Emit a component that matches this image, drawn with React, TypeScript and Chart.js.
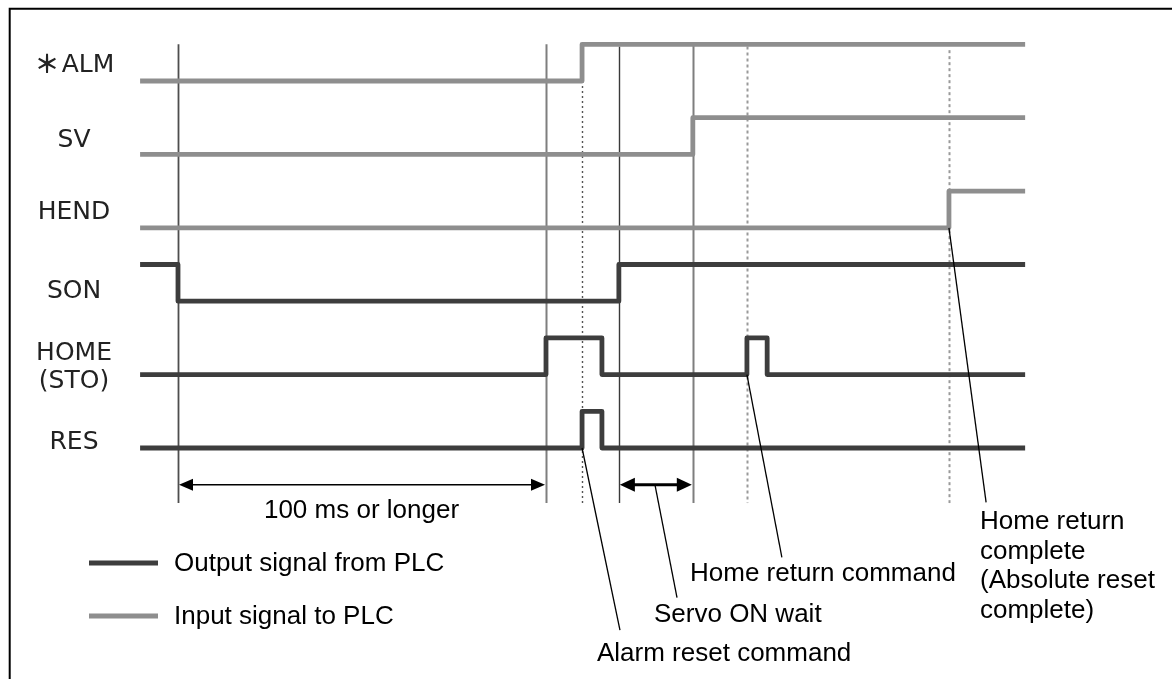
import React, { useEffect, useRef } from 'react';
import { Chart, registerables } from 'chart.js';

Chart.register(...registerables);

// ---- Data: timing of each signal (time in ms, measured from SON turning off) ----
const T_START = -10.3;
const T_END = 230.2;

const SIGNAL_NAMES = ['＊ALM', 'SV', 'HEND', 'SON', 'HOME', 'RES'];
const SIGNAL_SUBNAMES = ['', '', '', '', '(STO)', ''];
const SIGNAL_KIND = ['input', 'input', 'input', 'output', 'output', 'output'];

const ALM_TIMES = [T_START, 109.8, T_END];
const ALM_LEVELS = [0, 1, 1];
const SV_TIMES = [T_START, 139.9, T_END];
const SV_LEVELS = [0, 1, 1];
const HEND_TIMES = [T_START, 209.5, T_END];
const HEND_LEVELS = [0, 1, 1];
const SON_TIMES = [T_START, 0, 119.8, T_END];
const SON_LEVELS = [1, 0, 1, 1];
const HOME_TIMES = [T_START, 100, 115.2, 154.6, 160.1, T_END];
const HOME_LEVELS = [0, 1, 0, 1, 0, 0];
const RES_TIMES = [T_START, 109.8, 115.2, T_END];
const RES_LEVELS = [0, 1, 0, 0];

const SIGNAL_TIMES = [ALM_TIMES, SV_TIMES, HEND_TIMES, SON_TIMES, HOME_TIMES, RES_TIMES];
const SIGNAL_LEVELS = [ALM_LEVELS, SV_LEVELS, HEND_LEVELS, SON_LEVELS, HOME_LEVELS, RES_LEVELS];

// reference (guide) lines at event times
const GUIDE_TIMES = [0, 100, 109.8, 119.8, 139.9, 154.6, 209.5];
const GUIDE_TOP_ROWS = [-0.5, -0.5, 0, -0.47, -0.5, -0.47, -0.42];

// dimension arrows
const SPAN_FROM = [0, 119.8];
const SPAN_TO = [100, 139.9];
const SPAN_LABELS = ['100 ms or longer', ''];

// call-outs
const CALLOUT_TEXTS = [
  ['Alarm reset command'],
  ['Servo ON wait'],
  ['Home return command'],
  ['Home return', 'complete', '(Absolute reset', 'complete)'],
];
const CALLOUT_FROM_T = [109.8, 129.6, 154.6, 209.5];
const CALLOUT_FROM_ROW = [5, 5.5, 4, 2];
const CALLOUT_TO_T = [120.1, 135.6, 164.1, 219.6];
const CALLOUT_TO_ROW = [7.48, 7.04, 6.49, 5.74];

const LEGEND_LABELS = ['Output signal from PLC', 'Input signal to PLC'];

// ---- Styling / layout ----
const X_MIN = -48.37;
const X_MAX = 270.11;
const Y_MIN = -1.1035;
const Y_MAX = 8.147;
const AMP = 0.5;
const OUT_COLOR = '#3d3d3d';
const IN_COLOR = '#8e8e8e';
const TXT_FONT = '26px "Liberation Sans", Arial, sans-serif';
const LBL_FONT = '400 25px "DejaVu Sans", sans-serif';
const STAR_FONT = '700 25px "Noto Sans CJK JP", sans-serif';

const guideStyles = [
  { color: '#4e4e4e', width: 1.8, dash: [] as number[] },
  { color: '#7e7e7e', width: 2, dash: [] as number[] },
  { color: '#555555', width: 1.4, dash: [2, 3] },
  { color: '#3a3a3a', width: 1.4, dash: [] as number[] },
  { color: '#7e7e7e', width: 2, dash: [] as number[] },
  { color: '#9a9a9a', width: 2, dash: [3, 3] },
  { color: '#9a9a9a', width: 2, dash: [3, 3] },
];

function arrowHead(ctx: CanvasRenderingContext2D, x: number, y: number, dir: number, len: number, half: number) {
  ctx.beginPath();
  ctx.moveTo(x, y);
  ctx.lineTo(x - dir * len, y - half);
  ctx.lineTo(x - dir * len, y + half);
  ctx.closePath();
  ctx.fill();
}

const diagramPlugin = {
  id: 'timingDiagram',
  beforeDatasetsDraw(chart: any) {
    const { ctx, scales } = chart;
    const xs = scales.x;
    const ys = scales.y;
    ctx.save();
    // frame (top & left edges visible)
    ctx.strokeStyle = '#000';
    ctx.lineWidth = 2;
    ctx.beginPath();
    ctx.moveTo(1172, 8.7);
    ctx.lineTo(9.7, 8.7);
    ctx.lineTo(9.7, 679);
    ctx.stroke();
    // guides
    const bottom = ys.getPixelForValue(5.75);
    GUIDE_TIMES.forEach((t, i) => {
      const st = guideStyles[i];
      const px = Math.round(xs.getPixelForValue(t)) + 0.5;
      ctx.strokeStyle = st.color;
      ctx.lineWidth = st.width;
      ctx.setLineDash(st.dash);
      ctx.beginPath();
      ctx.moveTo(px, ys.getPixelForValue(GUIDE_TOP_ROWS[i]));
      ctx.lineTo(px, bottom);
      ctx.stroke();
    });
    ctx.setLineDash([]);
    ctx.restore();
  },
  afterDatasetsDraw(chart: any) {
    const { ctx, scales } = chart;
    const xs = scales.x;
    const ys = scales.y;
    ctx.save();
    // signal names
    ctx.fillStyle = '#222';
    ctx.textBaseline = 'alphabetic';
    const lblBase = [71.5, 146.5, 218.5, 297.5, 359.5, 449];
    SIGNAL_NAMES.forEach((n, i) => {
      ctx.textAlign = 'center';
      if (n.startsWith('＊')) {
        ctx.font = STAR_FONT;
        ctx.fillText('＊', 47, lblBase[i] + 1);
        ctx.font = LBL_FONT;
        ctx.fillText(n.slice(1), 88, lblBase[i]);
        return;
      }
      ctx.font = LBL_FONT;
      ctx.fillText(n, 74, lblBase[i]);
      if (SIGNAL_SUBNAMES[i]) ctx.fillText(SIGNAL_SUBNAMES[i], 74, lblBase[i] + 28);
    });

    // dimension arrows
    const ay = ys.getPixelForValue(5.5);
    ctx.fillStyle = '#000';
    ctx.strokeStyle = '#000';
    SPAN_FROM.forEach((f, i) => {
      const x1 = xs.getPixelForValue(f) + 1;
      const x2 = xs.getPixelForValue(SPAN_TO[i]) - 1;
      const thick = i === 1;
      ctx.lineWidth = thick ? 3 : 1.5;
      ctx.beginPath();
      ctx.moveTo(x1 + 8, ay);
      ctx.lineTo(x2 - 8, ay);
      ctx.stroke();
      arrowHead(ctx, x1, ay, -1, thick ? 15 : 14, thick ? 7 : 6);
      arrowHead(ctx, x2, ay, 1, thick ? 15 : 14, thick ? 7 : 6);
      if (SPAN_LABELS[i]) {
        ctx.font = TXT_FONT;
        ctx.textAlign = 'center';
        ctx.fillText(SPAN_LABELS[i], (x1 + x2) / 2 - 0.5, 518);
      }
    });

    // call-out leaders
    ctx.lineWidth = 1.3;
    CALLOUT_FROM_T.forEach((t, i) => {
      ctx.beginPath();
      ctx.moveTo(xs.getPixelForValue(t), ys.getPixelForValue(CALLOUT_FROM_ROW[i]));
      ctx.lineTo(xs.getPixelForValue(CALLOUT_TO_T[i]), ys.getPixelForValue(CALLOUT_TO_ROW[i]));
      ctx.stroke();
    });
    // call-out texts
    const calloutPos = [
      { x: 597, y: 661 },
      { x: 654, y: 622 },
      { x: 690, y: 581 },
      { x: 980, y: 529 },
    ];
    ctx.font = TXT_FONT;
    ctx.textAlign = 'left';
    CALLOUT_TEXTS.forEach((lines, i) => {
      lines.forEach((ln, j) => ctx.fillText(ln, calloutPos[i].x, calloutPos[i].y + j * 29.7));
    });

    // legend
    const legendY = [563, 616];
    const legendColors = [OUT_COLOR, IN_COLOR];
    LEGEND_LABELS.forEach((lab, i) => {
      ctx.strokeStyle = legendColors[i];
      ctx.lineWidth = 5;
      ctx.beginPath();
      ctx.moveTo(89, legendY[i]);
      ctx.lineTo(158, legendY[i]);
      ctx.stroke();
      ctx.fillStyle = '#000';
      ctx.fillText(lab, 174, legendY[i] + 8);
    });
    ctx.restore();
  },
};

export default function App() {
  const ref = useRef<HTMLCanvasElement | null>(null);
  useEffect(() => {
    if (!ref.current) return;
    const datasets = SIGNAL_NAMES.map((name, row) => ({
      label: name,
      data: SIGNAL_TIMES[row].map((t, k) => ({ x: t, y: row - AMP * SIGNAL_LEVELS[row][k] })),
      stepped: true as const,
      borderColor: SIGNAL_KIND[row] === 'output' ? OUT_COLOR : IN_COLOR,
      borderWidth: 4.8,
      borderJoinStyle: 'round' as const,
      borderCapStyle: 'butt' as const,
      pointRadius: 0,
      fill: false,
      clip: false as any,
    }));
    const chart = new Chart(ref.current, {
      type: 'line',
      data: { datasets },
      options: {
        animation: false,
        responsive: false,
        maintainAspectRatio: false,
        events: [],
        layout: { padding: 0 },
        plugins: { legend: { display: false }, tooltip: { enabled: false } },
        scales: {
          x: { type: 'linear', min: X_MIN, max: X_MAX, display: false },
          y: { type: 'linear', min: Y_MIN, max: Y_MAX, reverse: true, display: false },
        },
      },
      plugins: [diagramPlugin],
    });
    return () => chart.destroy();
  }, []);
  return (
    <div style={{ position: 'fixed', left: 0, top: 0, width: 1172, height: 679, background: '#fff' }}>
      <canvas ref={ref} width={1172} height={679} style={{ display: 'block' }} />
    </div>
  );
}
